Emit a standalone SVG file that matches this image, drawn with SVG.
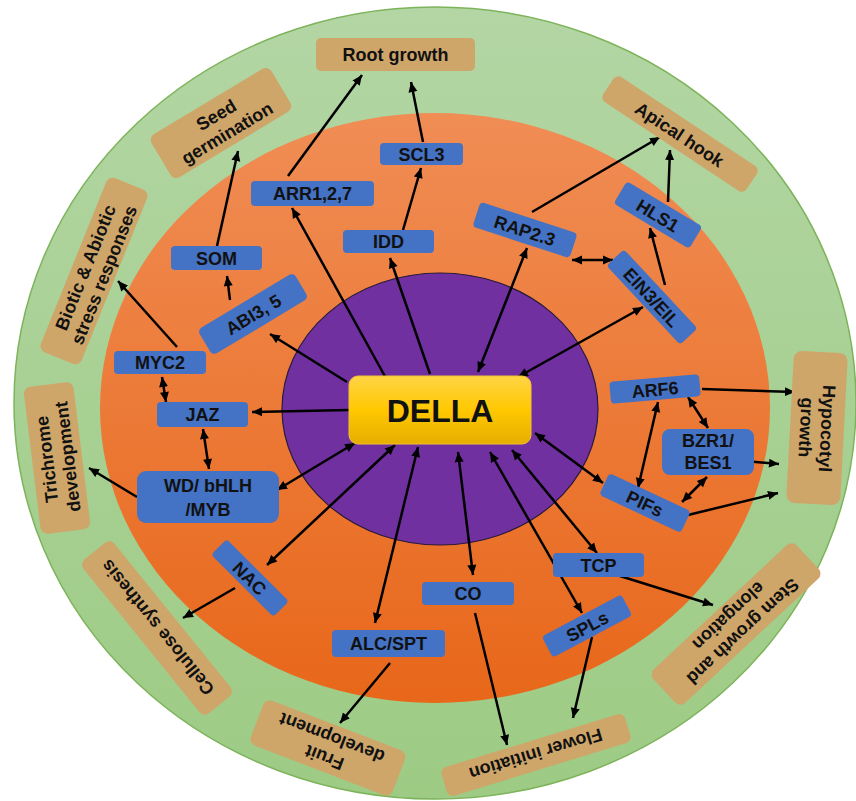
<svg xmlns="http://www.w3.org/2000/svg" width="856" height="801" viewBox="0 0 856 801">
<defs>
<linearGradient id="gGreen" x1="0" y1="0" x2="0" y2="1"><stop offset="0" stop-color="#B3D6A4"/><stop offset="1" stop-color="#9DCB84"/></linearGradient>
<linearGradient id="gOrange" x1="0" y1="0" x2="0" y2="1"><stop offset="0" stop-color="#F08D55"/><stop offset="1" stop-color="#E8671A"/></linearGradient>
<linearGradient id="gGold" x1="0" y1="0" x2="0" y2="1"><stop offset="0" stop-color="#FFD446"/><stop offset="0.5" stop-color="#FFC800"/><stop offset="1" stop-color="#E6AE00"/></linearGradient>
<marker id="ah" viewBox="0 0 10 10" refX="10" refY="5" markerWidth="4.2" markerHeight="4" orient="auto-start-reverse"><path d="M0,0.5 L10,5 L0,9.5 z" fill="#000"/></marker>
</defs>
<style>
.blue rect{fill:#4472C4;}
.tan rect{fill:#CFA66A;}
text{font-family:"Liberation Sans",Arial,sans-serif;font-weight:bold;fill:#111;text-anchor:middle;dominant-baseline:central;}
.blue text{font-size:18px;}
.tan text{font-size:18px;}
#connectors line{stroke:#000;stroke-width:2.5;marker-end:url(#ah);}
#connectors line.dbl{marker-start:url(#ah);}
</style>
<g id="background">
<ellipse cx="435" cy="403" rx="421" ry="396" fill="url(#gGreen)" stroke="#7DB35A" stroke-width="1.5"/>
<ellipse cx="435" cy="408" rx="335" ry="295" fill="url(#gOrange)"/>
<ellipse cx="440" cy="409" rx="158" ry="136" fill="#7030A0" stroke="#2a1a3a" stroke-width="1.2"/>
</g>
<g id="connectors">
<line x1="288" y1="176" x2="362" y2="75"/>
<line x1="387" y1="380" x2="292" y2="208"/>
<line x1="403" y1="230" x2="421" y2="168"/>
<line x1="423" y1="142" x2="411" y2="82"/>
<line x1="430" y1="374" x2="390" y2="258"/>
<line x1="217" y1="246" x2="238" y2="151"/>
<line x1="230" y1="300" x2="227" y2="276"/>
<line x1="347" y1="382" x2="270" y2="334"/>
<line x1="177" y1="347" x2="118" y2="281"/>
<line class="dbl" x1="162" y1="377" x2="166" y2="402"/>
<line x1="349" y1="410" x2="252" y2="412"/>
<line class="dbl" x1="203" y1="429" x2="209" y2="469"/>
<line x1="137" y1="497" x2="89" y2="468"/>
<line class="dbl" x1="355" y1="443" x2="277" y2="490"/>
<line class="dbl" x1="395" y1="445" x2="267" y2="565"/>
<line x1="235" y1="588" x2="183" y2="618"/>
<line class="dbl" x1="418" y1="447" x2="375" y2="623"/>
<line x1="390" y1="663" x2="340" y2="723"/>
<line class="dbl" x1="458" y1="452" x2="473" y2="575"/>
<line x1="475" y1="613" x2="507" y2="745"/>
<line class="dbl" x1="490" y1="452" x2="582" y2="613"/>
<line x1="592" y1="637" x2="573" y2="718"/>
<line class="dbl" x1="512" y1="450" x2="597" y2="553"/>
<line x1="620" y1="576" x2="713" y2="605"/>
<line class="dbl" x1="535" y1="433" x2="603" y2="483"/>
<line class="dbl" x1="638" y1="488" x2="658" y2="402"/>
<line class="dbl" x1="688" y1="397" x2="708" y2="428"/>
<line class="dbl" x1="707" y1="477" x2="682" y2="502"/>
<line x1="702" y1="389" x2="795" y2="392"/>
<line x1="745" y1="461" x2="779" y2="464"/>
<line x1="688" y1="515" x2="778" y2="493"/>
<line class="dbl" x1="478" y1="372" x2="527" y2="248"/>
<line x1="532" y1="212" x2="660" y2="137"/>
<line class="dbl" x1="572" y1="260" x2="613" y2="260"/>
<line class="dbl" x1="518" y1="377" x2="643" y2="307"/>
<line x1="665" y1="285" x2="650" y2="228"/>
<line x1="668" y1="202" x2="670" y2="150"/>
</g>
<g id="della"><rect x="349" y="376" width="182" height="68" rx="9" fill="url(#gGold)" stroke="#F2C230" stroke-width="1"/><text x="440" y="411" style="font-size:32px">DELLA</text></g>
<g id="arr" class="blue"><rect x="251" y="181" width="123" height="25" rx="4"/><text x="312.5" y="194">ARR1,2,7</text></g>
<g id="scl3" class="blue"><rect x="380" y="143" width="83" height="22" rx="4"/><text x="421.5" y="154.5">SCL3</text></g>
<g id="idd" class="blue"><rect x="343" y="230" width="91" height="23" rx="4"/><text x="388.5" y="242">IDD</text></g>
<g id="som" class="blue"><rect x="171" y="246" width="91" height="24" rx="4"/><text x="216.5" y="258.5">SOM</text></g>
<g id="abi" class="blue" transform="translate(253,314) rotate(-31)"><rect x="-56" y="-15" width="112" height="30" rx="5"/><text x="0" y="1">ABI3, 5</text></g>
<g id="myc2" class="blue"><rect x="114" y="351" width="92" height="23" rx="4"/><text x="160" y="363">MYC2</text></g>
<g id="jaz" class="blue"><rect x="157" y="402" width="91" height="25" rx="4"/><text x="202.5" y="415">JAZ</text></g>
<g id="wd" class="blue"><rect x="137" y="471" width="142" height="52" rx="9"/><text x="208" y="486">WD/ bHLH</text><text x="208" y="510">/MYB</text></g>
<g id="nac" class="blue" transform="translate(250,578) rotate(45)"><rect x="-44" y="-11" width="88" height="22" rx="4"/><text x="0" y="1">NAC</text></g>
<g id="alc" class="blue"><rect x="332" y="630" width="113" height="27" rx="4"/><text x="388.5" y="644">ALC/SPT</text></g>
<g id="co" class="blue"><rect x="422" y="582" width="92" height="23" rx="4"/><text x="468" y="594">CO</text></g>
<g id="tcp" class="blue"><rect x="553" y="553" width="91" height="24" rx="4"/><text x="598.5" y="565.5">TCP</text></g>
<g id="spls" class="blue" transform="translate(587,626) rotate(-28)"><rect x="-45" y="-12" width="90" height="24" rx="4"/><text x="0" y="1">SPLs</text></g>
<g id="pifs" class="blue" transform="translate(645,503) rotate(25)"><rect x="-45" y="-12" width="90" height="24" rx="4"/><text x="0" y="1">PIFs</text></g>
<g id="arf6" class="blue" transform="translate(655,389) rotate(-5)"><rect x="-45" y="-11" width="90" height="22" rx="4"/><text x="0" y="1">ARF6</text></g>
<g id="bzr1" class="blue"><rect x="662" y="429" width="92" height="46" rx="8"/><text x="708" y="441">BZR1/</text><text x="708" y="463">BES1</text></g>
<g id="rap" class="blue" transform="translate(525,230) rotate(18)"><rect x="-51" y="-13" width="102" height="26" rx="4"/><text x="0" y="1">RAP2.3</text></g>
<g id="ein3" class="blue" transform="translate(652,297) rotate(47)"><rect x="-54" y="-12" width="108" height="24" rx="4"/><text x="0" y="1">EIN3/EIL</text></g>
<g id="hls1" class="blue" transform="translate(658,215) rotate(31)"><rect x="-44" y="-13" width="88" height="26" rx="4"/><text x="0" y="1">HLS1</text></g>
<g id="root" class="tan"><rect x="316" y="38" width="159" height="33" rx="5"/><text x="395.5" y="55">Root growth</text></g>
<g id="seed" class="tan" transform="translate(221,123) rotate(-31)"><rect x="-70" y="-25" width="140" height="50" rx="7"/><text x="0" y="-9">Seed</text><text x="0" y="12">germination</text></g>
<g id="biotic" class="tan" transform="translate(94,271) rotate(-68)"><rect x="-94" y="-22" width="188" height="44" rx="7"/><text x="0" y="-9">Biotic &amp; Abiotic</text><text x="0" y="11">stress responses</text></g>
<g id="trichrome" class="tan" transform="translate(57,458) rotate(-97)"><rect x="-74" y="-25" width="148" height="50" rx="7"/><text x="0" y="-10">Trichrome</text><text x="0" y="11">development</text></g>
<g id="cellulose" class="tan" transform="translate(157,628) rotate(-129)"><rect x="-99" y="-20" width="198" height="40" rx="7"/><text x="0" y="1">Cellulose synthesis</text></g>
<g id="fruit" class="tan" transform="translate(328,748) rotate(-159)"><rect x="-76" y="-24" width="152" height="48" rx="7"/><text x="0" y="-10">Fruit</text><text x="0" y="11">development</text></g>
<g id="flower" class="tan" transform="translate(536,755) rotate(163)"><rect x="-96" y="-15" width="192" height="30" rx="6"/><text x="0" y="1">Flower initiation</text></g>
<g id="stem" class="tan" transform="translate(736,624) rotate(137)"><rect x="-98" y="-23" width="196" height="46" rx="7"/><text x="0" y="-10">Stem growth and</text><text x="0" y="11">elongation</text></g>
<g id="hypocotyl" class="tan" transform="translate(817,428) rotate(93)"><rect x="-76" y="-27" width="152" height="54" rx="8"/><text x="0" y="-10">Hypocotyl</text><text x="0" y="11">growth</text></g>
<g id="apical" class="tan" transform="translate(680,134) rotate(33.5)"><rect x="-86" y="-15" width="172" height="30" rx="6"/><text x="0" y="1">Apical hook</text></g>
</svg>
